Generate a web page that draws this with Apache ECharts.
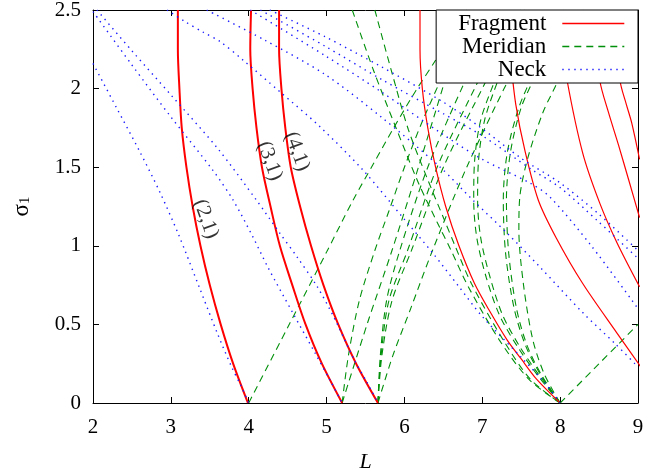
<!DOCTYPE html>
<html><head><meta charset="utf-8">
<script src="https://cdn.jsdelivr.net/npm/echarts@6/dist/echarts.min.js"></script>
<style>html,body{margin:0;padding:0;background:#fff}#c{width:645px;height:476px}</style>
</head><body><div id="c"></div>
<script>
// ---------- tick labels ----------
const xTickLabels = ['2','3','4','5','6','7','8','9'];
const yTickLabels = ['0','0.5','1','1.5','2','2.5'];

// ---------- Fragment curves (red) ----------
const fragment21 = [[3.09,2.5],[3.09,2.25],[3.11,2.0],[3.14,1.75],[3.2,1.5],[3.28,1.25],[3.38,1.0],[3.5,0.75],[3.64,0.5],[3.8,0.25],[3.99,0]];
const fragment31 = [[4.03,2.5],[4.02,2.25],[4.05,2.0],[4.1,1.75],[4.17,1.5],[4.28,1.25],[4.4,1.0],[4.56,0.75],[4.73,0.5],[4.94,0.25],[5.2,0]];
const fragment41 = [[4.39,2.5],[4.39,2.25],[4.42,2.0],[4.47,1.75],[4.54,1.5],[4.66,1.25],[4.8,1.0],[4.96,0.75],[5.15,0.5],[5.38,0.25],[5.66,0]];
const fragmentA = [[6.2,2.5],[6.2,2.25],[6.23,2.0],[6.3,1.75],[6.4,1.5],[6.53,1.25],[6.7,1.0],[6.9,0.76],[7.1,0.58],[7.32,0.4],[7.5,0.28],[7.7,0.15],[8.0,0]];
const fragmentB = [[7.3,2.5],[7.36,2.2],[7.43,1.9],[7.55,1.6],[7.72,1.29],[7.95,1.05],[8.29,0.76],[8.73,0.445],[9.05,0.22]];
const fragmentC = [[7.95,2.5],[8.09,2.05],[8.29,1.59],[8.51,1.27],[8.73,1.02],[9.02,0.74]];
const fragmentD = [[8.42,2.5],[8.51,2.05],[8.62,1.85],[8.75,1.64],[8.88,1.42],[9.02,1.18]];
const fragmentE = [[8.72,2.5],[8.77,2.05],[8.85,1.9],[8.92,1.78],[9.02,1.55]];

// ---------- Meridian curves (green) ----------
const meridian1 = [[4.0,0],[4.5,0.48],[5.0,0.96],[5.34,1.29],[5.6,1.52],[5.85,1.74],[6.15,1.99],[6.4,2.18],[6.8,2.5]];
const meridianA = [[5.2,0],[5.28,0.3],[5.42,0.65],[5.62,0.97],[5.8,1.22],[6.0,1.5],[6.22,1.78],[6.46,2.05],[6.85,2.5]];
const meridianB = [[5.2,0],[5.52,0.5],[5.84,0.97],[6.18,1.5],[6.52,2.05],[6.8,2.5]];
const meridianC = [[5.66,0],[5.69,0.3],[5.77,0.65],[5.94,0.97],[6.3,1.5],[6.78,2.05],[7.2,2.5]];
const meridianD = [[5.66,0],[5.7,0.3],[5.8,0.65],[6.04,0.97],[6.42,1.5],[6.95,2.05],[7.4,2.5]];
const meridianE = [[5.66,0],[5.71,0.3],[5.84,0.65],[6.09,0.97],[6.5,1.5],[7.05,2.05],[7.5,2.5]];
const meridianF = [[5.66,0],[5.85,0.3],[6.08,0.6],[6.36,0.97],[6.8,1.5],[7.33,2.05],[7.8,2.5]];
const meridianT1 = [[5.33,2.5],[5.6,2.12],[5.9,1.74],[6.18,1.4],[6.42,1.15],[6.6,0.97],[6.82,0.74],[7.22,0.4],[7.6,0.15],[8.0,0]];
const meridianT2 = [[5.62,2.5],[5.84,2.1],[6.05,1.74],[6.3,1.42],[6.5,1.18],[6.65,1.0],[6.86,0.76],[7.27,0.4],[7.62,0.15],[8.0,0]];
const meridianH1a = [[8.0,0],[7.72,0.17],[7.45,0.36],[7.22,0.56],[7.05,0.8],[6.93,1.05],[6.89,1.29],[6.9,1.53],[6.98,1.8],[7.16,2.05],[7.5,2.5]];
const meridianH1b = [[8.0,0],[7.74,0.17],[7.48,0.36],[7.26,0.56],[7.1,0.8],[6.98,1.05],[6.94,1.29],[6.95,1.53],[7.03,1.8],[7.2,2.05],[7.55,2.5]];
const meridianH2a = [[8.0,0],[7.76,0.17],[7.56,0.36],[7.41,0.6],[7.3,0.95],[7.27,1.29],[7.32,1.59],[7.47,1.88],[7.66,2.1],[8.0,2.5]];
const meridianH2b = [[8.0,0],[7.77,0.17],[7.58,0.36],[7.44,0.6],[7.34,0.95],[7.31,1.29],[7.36,1.59],[7.5,1.88],[7.7,2.1],[8.05,2.5]];
const meridianH3 = [[8.0,0],[7.8,0.18],[7.65,0.4],[7.53,0.75],[7.47,1.1],[7.48,1.3],[7.58,1.55],[7.78,1.85],[7.97,2.05],[8.3,2.5]];
const meridianR = [[8.0,0],[8.5,0.25],[9.0,0.5]];

// ---------- Neck curves (blue) ----------
const neck21 = [[2.0,2.16],[2.3,1.88],[2.6,1.6],[2.86,1.34],[3.1,1.07],[3.37,0.73],[3.6,0.44],[3.78,0.23],[3.9,0.11],[4.0,0]];
const neck31 = [[2.0,2.49],[2.5,2.15],[3.0,1.82],[3.54,1.48],[3.8,1.29],[4.05,1.06],[4.25,0.86],[4.57,0.57],[4.85,0.32],[5.05,0.14],[5.2,0]];
const neck41 = [[2.05,2.5],[2.5,2.24],[3.0,1.96],[3.6,1.62],[4.1,1.29],[4.4,1.08],[4.62,0.93],[4.88,0.74],[5.1,0.54],[5.35,0.28],[5.52,0.13],[5.66,0]];
const neckA = [[2.95,2.5],[3.17,2.43],[3.41,2.36],[3.63,2.3],[3.93,2.18],[4.4,1.98],[4.91,1.76],[5.47,1.48],[5.98,1.18],[6.37,0.95],[6.7,0.74],[7.0,0.55],[7.52,0.28],[7.8,0.13],[8.0,0]];
const neckB = [[3.46,2.5],[4.2,2.31],[4.98,2.09],[5.7,1.82],[6.46,1.5],[6.88,1.29],[7.32,1.08],[7.74,0.865],[8.3,0.57],[8.7,0.38],[9.0,0.23]];
const neckC = [[4.02,2.5],[4.98,2.21],[5.7,1.98],[6.46,1.72],[7.0,1.55],[7.61,1.4],[7.87,1.31],[8.4,1.0],[9.0,0.6]];
const neckD = [[4.15,2.5],[4.98,2.27],[5.7,2.06],[6.5,1.84],[7.0,1.7],[7.65,1.48],[8.0,1.37],[8.5,1.15],[9.0,0.92]];
const neckE = [[4.27,2.5],[4.98,2.33],[5.7,2.14],[6.48,1.92],[6.93,1.77],[7.52,1.55],[8.0,1.4],[8.5,1.2],[9.0,0.97]];

// ---------- curve annotations ----------
const curveLabelNames = ['(2,1)','(3,1)','(4,1)'];
const curveLabelPos = [[3.45,1.17],[4.27,1.54],[4.62,1.6]];

// ---------- build ----------
const SERIF = "'Liberation Serif','Times New Roman','DejaVu Serif',serif";
const RED = '#ff0000', GREEN = '#00900a', BLUE = '#1a1aff';
const series = [];
function add(name, data, color, width, type, z) {
  series.push({name, type:'line', data, symbol:'none', showSymbol:false, smooth:0.3,
    silent:true, animation:false, z:z, clip:true,
    lineStyle:{color, width, type}, itemStyle:{color}});
}
[fragmentA, fragmentB, fragmentC, fragmentD, fragmentE].forEach(d => add('Fragment', d, RED, 1.2, 'solid', 3));
[fragment21, fragment31, fragment41].forEach(d => add('Fragment', d, RED, 2, 'solid', 3));
[meridian1, meridianA, meridianB, meridianC, meridianD, meridianE, meridianF, meridianT1, meridianT2,
 meridianH1a, meridianH1b, meridianH2a, meridianH2b, meridianH3, meridianR]
  .forEach(d => add('Meridian', d, GREEN, 1.1, [7,5], 2));
[neck21, neck31, neck41, neckA, neckB, neckC, neckD, neckE].forEach(d => add('Neck', d, BLUE, 1.4, [1.4,4.6], 4));

const labelRot = [-70, -70, -70];
series.push({type:'scatter', silent:true, animation:false, symbolSize:0, z:6,
  data: curveLabelNames.map((n,i)=>({name:n, value:curveLabelPos[i],
    label:{rotate:labelRot[i]}})),
  label:{show:true, position:'inside', formatter:'{b}', color:'#000', fontFamily:SERIF, fontSize:21}});

const axisCommon = {
  axisLine:{show:true, onZero:false, lineStyle:{color:'#000', width:1}},
  axisTick:{show:true, inside:true, length:6, lineStyle:{color:'#000', width:1}},
  splitLine:{show:false}
};
const option = {
  animation:false,
  backgroundColor:'#fff',
  grid:{left:93, right:7, top:10, bottom:73, outerBoundsMode:'none'},
  legend:{
    data:['Fragment','Meridian','Neck'],
    orient:'vertical', align:'right', right:7, top:10,
    itemWidth:62, itemHeight:14, itemGap:0,
    padding:[2,13,2,22],
    backgroundColor:'#fff', borderColor:'#000', borderWidth:1, borderRadius:0,
    selectedMode:false,
    lineStyle:{width:1.4},
    itemStyle:{opacity:0, borderWidth:0},
    textStyle:{fontFamily:SERIF, fontSize:23, color:'#000', padding:[0,11,0,0]}
  },
  xAxis:[
    Object.assign({type:'value', min:2, max:9, interval:1, position:'bottom',
      name:'L', nameLocation:'middle', nameGap:48,
      nameTextStyle:{fontFamily:SERIF, fontStyle:'italic', fontSize:22, color:'#000'},
      axisLabel:{show:true, margin:14, color:'#000', fontFamily:SERIF, fontSize:21,
        formatter:(v)=>xTickLabels[Math.round(v-2)]}}, axisCommon),
    Object.assign({type:'value', min:2, max:9, interval:1, position:'top',
      axisLabel:{show:false}}, axisCommon)
  ],
  yAxis:[
    Object.assign({type:'value', min:0, max:2.5, interval:0.5, position:'left',
      name:'{s|σ}{b|1}', nameLocation:'middle', nameGap:60, nameRotate:90,
      nameTextStyle:{color:'#000', rich:{
        s:{fontFamily:SERIF, fontSize:23, color:'#000', verticalAlign:'top', lineHeight:23},
        b:{fontFamily:SERIF, fontSize:15, color:'#000', verticalAlign:'bottom', lineHeight:15, padding:[10,0,0,0]}}},
      axisLabel:{show:true, margin:12, color:'#000', fontFamily:SERIF, fontSize:21,
        formatter:(v)=>yTickLabels[Math.round(v*2)]}}, axisCommon),
    Object.assign({type:'value', min:0, max:2.5, interval:0.5, position:'right',
      axisLabel:{show:false}}, axisCommon)
  ],
  series
};
const chart = echarts.init(document.getElementById('c'), null, {renderer:'canvas'});
chart.setOption(option);
</script></body></html>
